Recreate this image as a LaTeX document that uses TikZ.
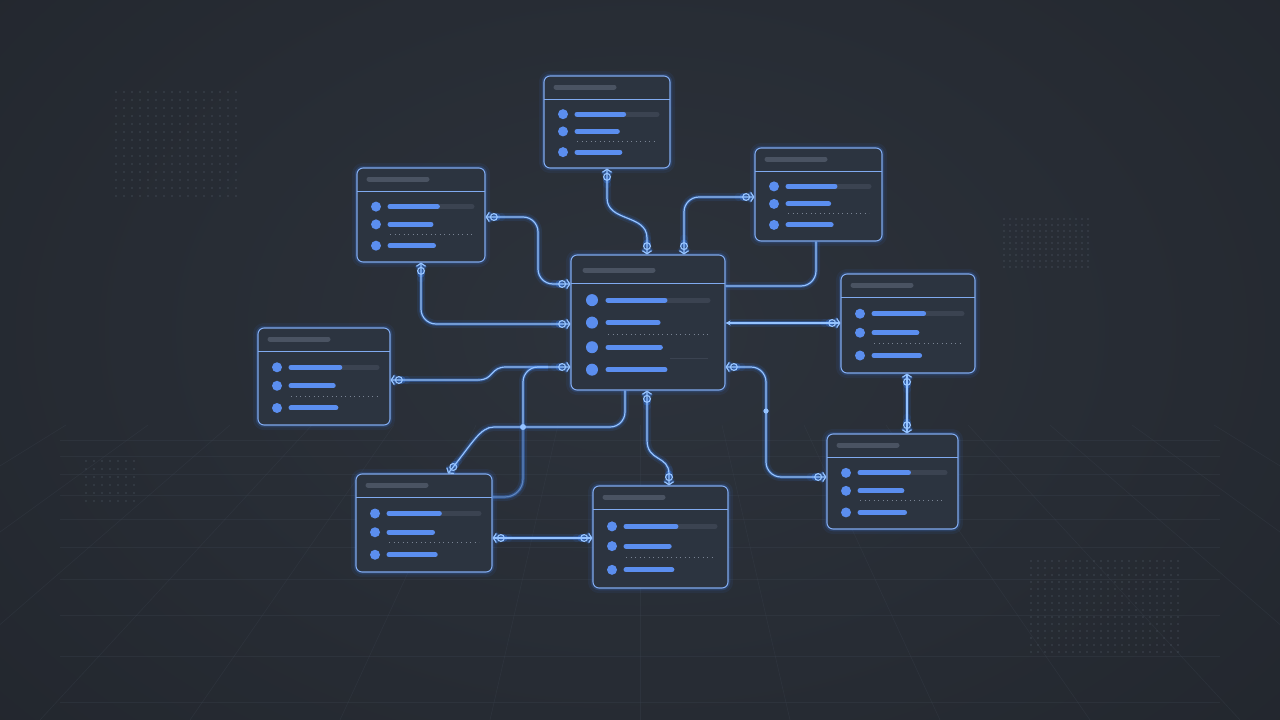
\documentclass[tikz,border=0pt]{standalone}
\usetikzlibrary{arrows.meta,calc}
\definecolor{bgc}{HTML}{21252C}
\definecolor{bgin}{HTML}{2D333C}
\definecolor{tblfill}{HTML}{2C3440}
\definecolor{tblborder}{HTML}{80AAEF}
\definecolor{glowc}{HTML}{3B82F6}
\definecolor{linec}{HTML}{95C3FF}
\definecolor{barc}{HTML}{5B8EEF}
\definecolor{trackc}{HTML}{3B4351}
\definecolor{hdrc}{HTML}{4A5362}
\definecolor{dotc}{HTML}{7A8494}
\definecolor{gridc}{HTML}{3C4450}
\definecolor{matc}{HTML}{56606E}
\tikzset{
  tbl/.style={draw=tblborder, line width=1.1pt, rounded corners=6pt, fill=tblfill, inner sep=0pt,
    preaction={draw=glowc, line width=10pt, opacity=.07, fill=none},
    preaction={draw=glowc, line width=4.5pt, opacity=.18, fill=none}},
  hdrbar/.style={hdrc, line width=5pt, line cap=round},
  divl/.style={tblborder, line width=1pt},
  barl/.style={barc, line width=5pt, line cap=round},
  trackl/.style={trackc, line width=5pt, line cap=round},
  dotl/.style={dotc, line width=1.1pt, dash pattern=on 1.3pt off 3.2pt},
  faintl/.style={trackc, line width=1pt},
  conn/.style={linec, line width=1.2pt, rounded corners=15pt,
    preaction={draw=glowc, line width=8pt, opacity=.10},
    preaction={draw=glowc, line width=3.5pt, opacity=.35}},
  cf/.tip={Circle[open,length=8pt,width=8pt] Straight Barb[length=3pt,width=9pt]},
  gridline/.style={gridc, line width=0.6pt, opacity=.32},
  mdot/.style={matc, opacity=.5},
  glowdot/.style={fill=linec, preaction={fill=glowc, opacity=.35, draw=none}}
}
\newcommand\dbtab[6]{%
  \pgfmathsetmacro\tw{#4-#2}\pgfmathsetmacro\th{#5-#3}%
  \node[tbl, minimum width=\tw pt, minimum height=\th pt] (#1) at ({(#2+#4)/2},{(#3+#5)/2}) {};
  \ifnum#6=4
    \def\hd{28}\def\hy{15}\def\cx{21}\def\bx{37}\def\cr{6}\def\tm{17}\def\hl{68}%
    \def\rowlist{0.16/0.37,0.37/0.325,0.60/0.34,0.81/0.37}\def\dotf{0.48}%
  \else
    \def\hd{23}\def\hy{11}\def\cx{19}\def\bx{33}\def\cr{5}\def\tm{13}\def\hl{58}%
    \def\rowlist{0.22/0.37,0.47/0.32,0.77/0.34}\def\dotf{0.61}%
  \fi
  \draw[hdrbar] (#2+\cx-7,#3+\hy) -- ++(\hl,0);
  \draw[divl] (#2,#3+\hd) -- (#4,#3+\hd);
  \pgfmathsetmacro\yone{#3+\hd+(\th-\hd)*0.22}%
  \ifnum#6=4 \pgfmathsetmacro\yone{#3+\hd+(\th-\hd)*0.16}\fi
  \draw[trackl] (#2+\bx,\yone) -- (#4-\tm,\yone);
  \foreach \f/\L in \rowlist {
    \pgfmathsetmacro\yy{#3+\hd+(\th-\hd)*\f}
    \pgfmathsetmacro\bl{\L*\tw}
    \fill[barc] (#2+\cx,\yy) circle (\cr);
    \draw[barl] (#2+\bx,\yy) -- ++(\bl,0);
  }
  \pgfmathsetmacro\yd{#3+\hd+(\th-\hd)*\dotf}%
  \draw[dotl] (#2+\bx,\yd) -- (#4-\tm,\yd);
  \ifnum#6=4
    \pgfmathsetmacro\yf{#3+\hd+(\th-\hd)*0.71}%
    \draw[faintl] (#2+99,\yf) -- (#4-\tm,\yf);
  \fi
}
\begin{document}
\begin{tikzpicture}[x=1pt,y=-1pt]
\useasboundingbox (0,0) rectangle (1280,720);
\clip (0,0) rectangle (1280,720);
\fill[bgc] (0,0) rectangle (1280,720);
\shade[inner color=bgin, outer color=bgc] (640,330) ellipse (1000 and 700);
% perspective floor grid
\foreach \yy in {440,456,474,495,519,547,579,615,656,702}
  \draw[gridline] (60,\yy) -- (1220,\yy);
\foreach \k [evaluate=\k as \xs using 640+\k*82, evaluate=\k as \xe using 640+\k*150] in {-9,...,9}
  \draw[gridline] (\xs,425) -- (\xe,720);
% dot matrices
\foreach \i in {0,...,15} \foreach \j in {0,...,13} \fill[mdot] (116+\i*8,92+\j*8) circle (0.9);
\foreach \i in {0,...,14} \foreach \j in {0,...,8} \fill[mdot] (1004+\i*6,219+\j*6) circle (0.8);
\foreach \i in {0,...,6} \foreach \j in {0,...,5} \fill[mdot] (86+\i*8,461+\j*8) circle (0.9);
\foreach \i in {0,...,21} \foreach \j in {0,...,13} \fill[mdot] (1031+\i*7,561+\j*7) circle (0.8);
% tables
\dbtab{T}{544}{76}{670}{168}{3}
\dbtab{UL}{357}{168}{485}{262}{3}
\dbtab{UR}{755}{148}{882}{241}{3}
\dbtab{C}{571}{255}{725}{390}{4}
\dbtab{R}{841}{274}{975}{373}{3}
\dbtab{L}{258}{328}{390}{425}{3}
\dbtab{BL}{356}{474}{492}{572}{3}
\dbtab{BC}{593}{486}{728}{588}{3}
\dbtab{BR}{827}{434}{958}{529}{3}
% connectors
\coordinate (J) at (523,427);
\coordinate (Jt) at (548,367);
\coordinate (K) at (766,411);
\draw[conn,cf-cf] (UL.east|-0,217) -| (538,284) -- (C.west|-0,284);
\draw[conn,cf-cf] (421,0|-UL.south) |- (C.west|-0,324);
\draw[conn,cf-cf,sharp corners] (607,0|-T.south) -- (607,198) .. controls (607,222) and (647,214) .. (647,238) -- (647,0|-C.north);
\draw[conn,cf-cf] (UR.west|-0,197) -| (684,0|-C.north);
\draw[conn] (816,0|-UR.south) |- (C.east|-0,286);
\draw[conn,{Stealth[length=5pt,width=5pt]}-cf] (C.east|-0,323) -- (R.west|-0,323);
\draw[conn,cf-cf,sharp corners] (L.east|-0,380) -- (478,380) .. controls (494,380) and (490,367) .. (506,367) -- (C.west|-0,367);
\draw[conn] (Jt) -| (J);
\draw[conn] (J) -| (625,0|-C.south);
\draw[conn,-cf,sharp corners] (J) -- (494,427) .. controls (480,427) and (472,444) .. (448,0|-BL.north);
\draw[conn,opacity=.45,rounded corners=18pt] (J) |- (BL.east|-0,497);
\draw[conn,cf-cf,sharp corners] (647,0|-C.south) -- (647,440) .. controls (647,462) and (669,455) .. (669,474) -- (669,0|-BC.north);
\draw[conn,cf-cf] (C.east|-0,367) -| (K) |- (BR.west|-0,477);
\draw[conn,cf-cf] (907,0|-R.south) -- (907,0|-BR.north);
\draw[conn,cf-cf] (BL.east|-0,538) -- (BC.west|-0,538);
\fill[glowdot] (J) circle (3);
\fill[glowdot] (K) circle (2.6);
\end{tikzpicture}
\end{document}
